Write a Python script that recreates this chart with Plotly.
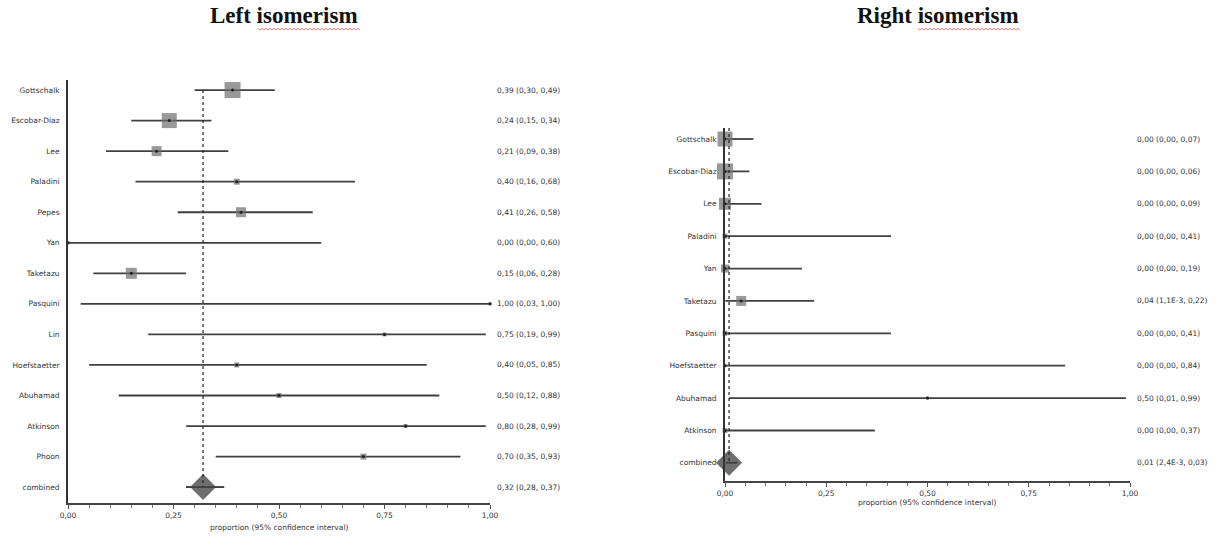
import plotly.graph_objects as go

# ---- Left isomerism: study proportions with 95% CI ----
left_studies = ["Gottschalk", "Escobar-Diaz", "Lee", "Paladini", "Pepes", "Yan", "Taketazu",
                "Pasquini", "Lin", "Hoefstaetter", "Abuhamad", "Atkinson", "Phoon", "combined"]
left_est = [0.39, 0.24, 0.21, 0.40, 0.41, 0.00, 0.15, 1.00, 0.75, 0.40, 0.50, 0.80, 0.70, 0.32]
left_lo = [0.30, 0.15, 0.09, 0.16, 0.26, 0.00, 0.06, 0.03, 0.19, 0.05, 0.12, 0.28, 0.35, 0.28]
left_hi = [0.49, 0.34, 0.38, 0.68, 0.58, 0.60, 0.28, 1.00, 0.99, 0.85, 0.88, 0.99, 0.93, 0.37]
left_labels = ["0,39 (0,30, 0,49)", "0,24 (0,15, 0,34)", "0,21 (0,09, 0,38)", "0,40 (0,16, 0,68)",
               "0,41 (0,26, 0,58)", "0,00 (0,00, 0,60)", "0,15 (0,06, 0,28)", "1,00 (0,03, 1,00)",
               "0,75 (0,19, 0,99)", "0,40 (0,05, 0,85)", "0,50 (0,12, 0,88)", "0,80 (0,28, 0,99)",
               "0,70 (0,35, 0,93)", "0,32 (0,28, 0,37)"]
left_box = [16, 15, 10, 6, 10, 3, 11, 3, 4, 5, 5, 4, 6]

# ---- Right isomerism ----
right_studies = ["Gottschalk", "Escobar-Diaz", "Lee", "Paladini", "Yan", "Taketazu",
                 "Pasquini", "Hoefstaetter", "Abuhamad", "Atkinson", "combined"]
right_est = [0.00, 0.00, 0.00, 0.00, 0.00, 0.04, 0.00, 0.00, 0.50, 0.00, 0.01]
right_lo = [0.00, 0.00, 0.00, 0.00, 0.00, 0.0011, 0.00, 0.00, 0.01, 0.00, 0.0024]
right_hi = [0.07, 0.06, 0.09, 0.41, 0.19, 0.22, 0.41, 0.84, 0.99, 0.37, 0.03]
right_labels = ["0,00 (0,00, 0,07)", "0,00 (0,00, 0,06)", "0,00 (0,00, 0,09)", "0,00 (0,00, 0,41)",
                "0,00 (0,00, 0,19)", "0,04 (1,1E-3, 0,22)", "0,00 (0,00, 0,41)", "0,00 (0,00, 0,84)",
                "0,50 (0,01, 0,99)", "0,00 (0,00, 0,37)", "0,01 (2,4E-3, 0,03)"]
right_box = [15, 16, 12, 5, 8, 10, 5, 3, 3, 5]

x_ticks = [0, 0.25, 0.5, 0.75, 1.0]
x_ticktext = ["0,00", "0,25", "0,50", "0,75", "1,00"]

W, H = 1225, 537
LINE = "#404040"
BOX = "#6e6e6e"
TXT = "#333333"
LABEL_FONT = dict(family="DejaVu Sans", size=7.5, color=TXT)

fig = go.Figure()


def add_panel(est, lo, hi, box, xa, ya):
    n = len(est)
    xs, ys = [], []
    for i in range(n):
        xs += [lo[i], hi[i], None]
        ys += [i, i, None]
    fig.add_trace(go.Scatter(x=xs, y=ys, mode="lines", line=dict(color=LINE, width=1.8),
                             xaxis=xa, yaxis=ya, hoverinfo="skip", cliponaxis=False))
    fig.add_trace(go.Scatter(x=est[:-1], y=list(range(n - 1)), mode="markers",
                             marker=dict(symbol="square", size=box, color=BOX, line=dict(width=0)),
                             xaxis=xa, yaxis=ya, cliponaxis=False))
    fig.add_trace(go.Scatter(x=est[:-1], y=list(range(n - 1)), mode="markers",
                             marker=dict(symbol="circle", size=3, color="#1e1e1e"),
                             xaxis=xa, yaxis=ya, cliponaxis=False))
    fig.add_trace(go.Scatter(x=[est[-1]], y=[n - 1], mode="markers",
                             marker=dict(symbol="diamond", size=20, color=BOX, line=dict(width=0)),
                             xaxis=xa, yaxis=ya, cliponaxis=False))
    # CI line of the pooled estimate drawn over the diamond
    fig.add_trace(go.Scatter(x=[lo[-1], hi[-1]], y=[n - 1, n - 1], mode="lines",
                             line=dict(color=LINE, width=1.8), xaxis=xa, yaxis=ya,
                             hoverinfo="skip", cliponaxis=False))


add_panel(left_est, left_lo, left_hi, left_box, "x", "y")
add_panel(right_est, right_lo, right_hi, right_box, "x2", "y2")


def px_x(p):
    return p / W


def px_y(p):
    return 1 - p / H


axis_common = dict(range=[0, 1], tickvals=x_ticks, ticktext=x_ticktext, showline=True,
                   linecolor="#444444", linewidth=1.5, ticks="outside", ticklen=4,
                   tickcolor="#555555", showgrid=False, zeroline=False,
                   tickfont=dict(family="DejaVu Sans", size=7.5, color=TXT),
                   minor=dict(dtick=0.05, ticks="outside", ticklen=3, tickcolor="#777777"),
                   automargin=False, fixedrange=True)

fig.update_layout(
    width=W, height=H, margin=dict(l=0, r=0, t=0, b=0),
    paper_bgcolor="white", plot_bgcolor="white", showlegend=False,
    xaxis=dict(domain=[px_x(68), px_x(490)], anchor="y", **axis_common),
    xaxis2=dict(domain=[px_x(725), px_x(1130)], anchor="y2", **axis_common),
    yaxis=dict(domain=[px_y(503), px_y(80)], range=[13.52, -0.33], anchor="x",
               tickvals=list(range(len(left_studies))), ticktext=left_studies,
               showline=True, linecolor="#333333", linewidth=1.8, ticks="",
               showgrid=False, zeroline=False, tickfont=LABEL_FONT,
               ticklabelstandoff=5, automargin=False, fixedrange=True),
    yaxis2=dict(domain=[px_y(481), px_y(128)], range=[10.56, -0.34], anchor="x2",
                tickvals=list(range(len(right_studies))), ticktext=right_studies,
                showline=True, linecolor="#333333", linewidth=1.8, ticks="",
                showgrid=False, zeroline=False, tickfont=LABEL_FONT,
                ticklabelstandoff=5, automargin=False, fixedrange=True),
)

# dashed reference lines at the pooled estimate
fig.add_shape(type="line", xref="x", yref="y", x0=left_est[-1], x1=left_est[-1],
              y0=0, y1=len(left_est) - 1, line=dict(color="#222222", width=1.2, dash="dot"))
fig.add_shape(type="line", xref="x2", yref="y2", x0=right_est[-1], x1=right_est[-1],
              y0=-0.34, y1=len(right_est) - 1, line=dict(color="#222222", width=1.2, dash="dot"))

# estimate (CI) text column
for i, t in enumerate(left_labels):
    fig.add_annotation(x=px_x(495), xref="paper", y=i, yref="y", text=t, showarrow=False,
                       xanchor="left", yanchor="middle", font=LABEL_FONT)
for i, t in enumerate(right_labels):
    fig.add_annotation(x=px_x(1135), xref="paper", y=i, yref="y2", text=t, showarrow=False,
                       xanchor="left", yanchor="middle", font=LABEL_FONT)

# axis titles
xtitle = "proportion (95% confidence interval)"
fig.add_annotation(x=px_x(279), y=px_y(527), xref="paper", yref="paper", text=xtitle,
                   showarrow=False, font=LABEL_FONT, xanchor="center", yanchor="middle")
fig.add_annotation(x=px_x(927), y=px_y(502), xref="paper", yref="paper", text=xtitle,
                   showarrow=False, font=LABEL_FONT, xanchor="center", yanchor="middle")

# panel titles
TITLE_FONT = dict(family="Liberation Serif", size=23, color="#111111")
fig.add_annotation(x=px_x(284), y=px_y(16), xref="paper", yref="paper",
                   text="<b>Left isomerism</b>", showarrow=False, font=TITLE_FONT,
                   xanchor="center", yanchor="middle")
fig.add_annotation(x=px_x(938), y=px_y(16), xref="paper", yref="paper",
                   text="<b>Right isomerism</b>", showarrow=False, font=TITLE_FONT,
                   xanchor="center", yanchor="middle")


# wavy spell-check underline beneath "isomerism"
def wavy(x0, x1, y):
    pts = []
    x = x0
    k = 0
    while x <= x1:
        pts.append((x, y + (1.2 if k % 2 else -0.8)))
        x += 2
        k += 1
    return "M " + " L ".join(f"{px_x(a):.5f},{px_y(b):.5f}" for a, b in pts)


for x0, x1 in [(258, 360), (918, 1020)]:
    fig.add_shape(type="path", xref="paper", yref="paper", path=wavy(x0, x1, 29),
                  line=dict(color="#e05050", width=0.8))

fig.write_html("out.html")
